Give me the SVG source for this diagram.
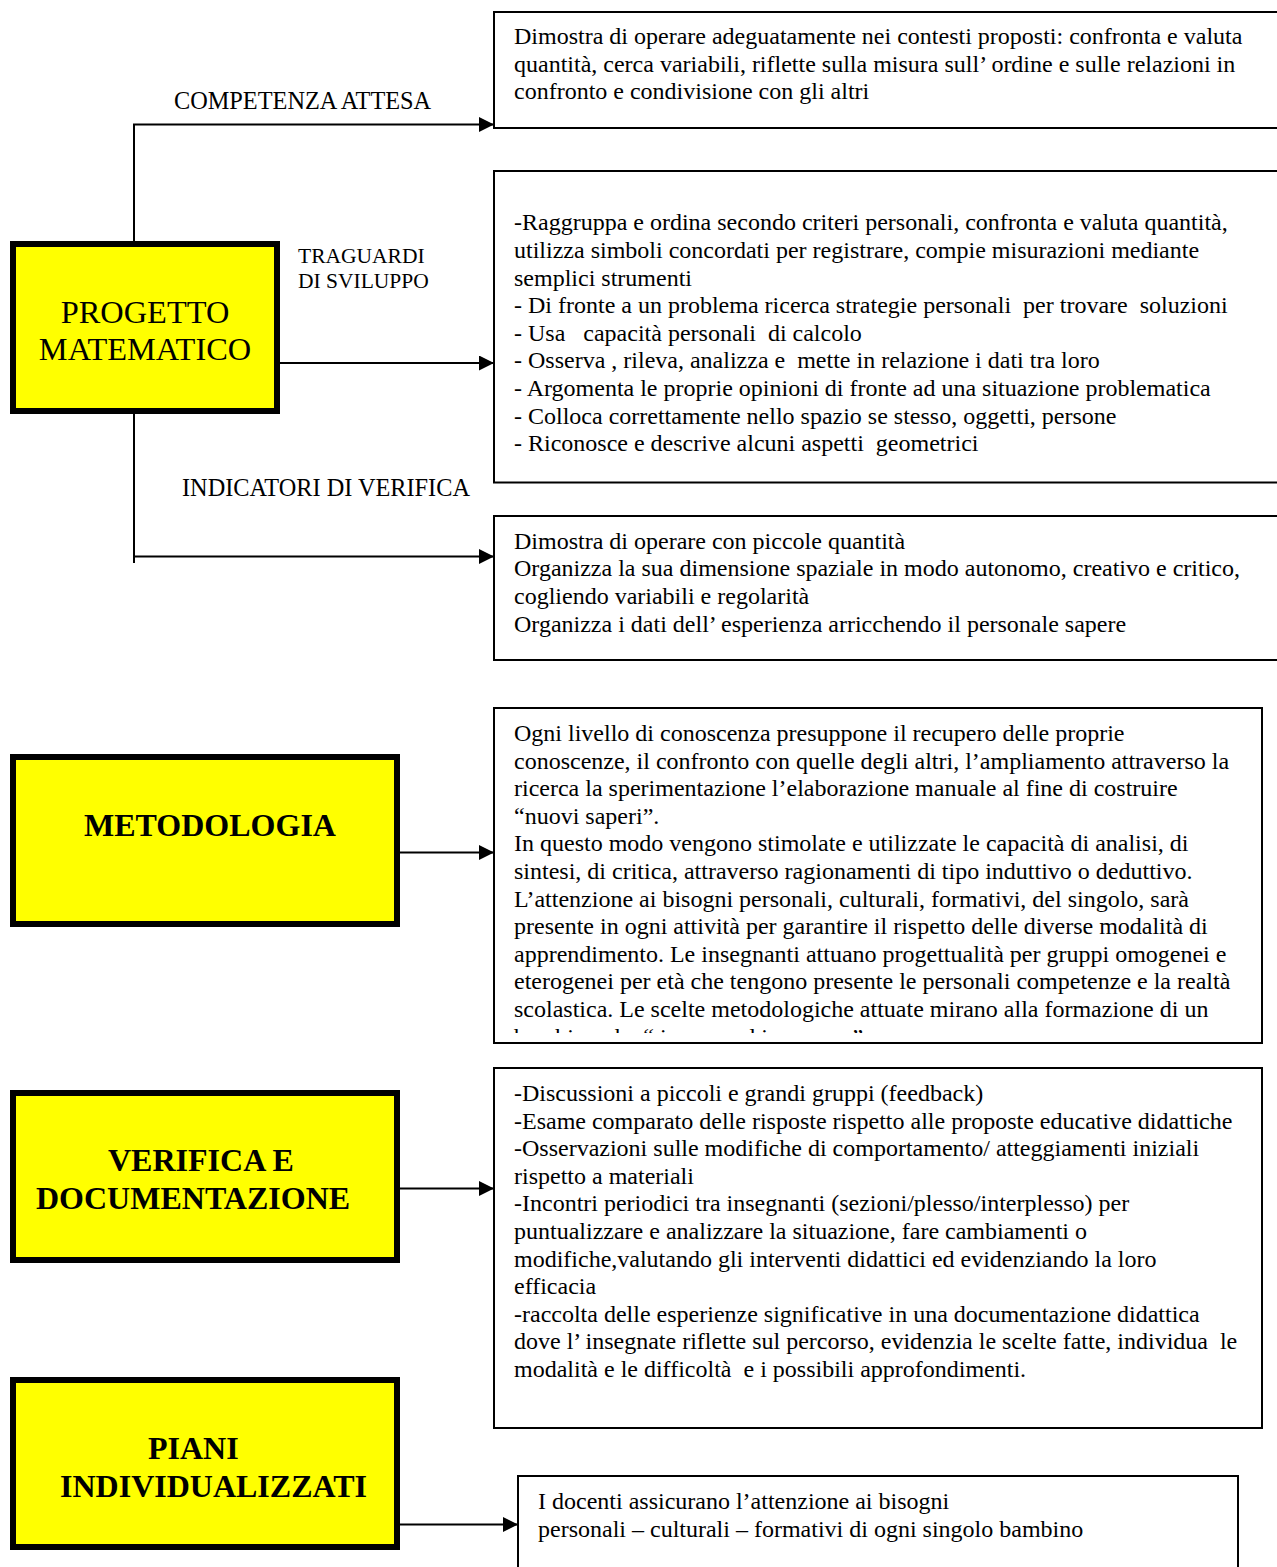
<svg xmlns="http://www.w3.org/2000/svg" width="1277" height="1567" viewBox="0 0 1277 1567">
<style>
text{font-family:"Liberation Serif","Times New Roman",serif;fill:#000;white-space:pre}
.b{font-size:24px}
.lbl{font-size:24.3px}
.sm{font-size:21.5px}
.big{font-size:32.4px}
.bold{font-size:32px;font-weight:bold}
.box{fill:#fff;stroke:#000;stroke-width:2}
.ybox{fill:#ffff00;stroke:#000;stroke-width:6}
.con{fill:none;stroke:#000;stroke-width:2}
</style>
<defs>
<marker id="ah" markerUnits="userSpaceOnUse" markerWidth="15" markerHeight="15" refX="15" refY="7.5" orient="auto">
<path d="M0,0 L15,7.5 L0,15 z" fill="#000"/>
</marker>
<clipPath id="clipMet"><rect x="494" y="708" width="768" height="325"/></clipPath>
</defs>

<g id="connectors">
<path class="con" d="M134,241 V124.5 H494" marker-end="url(#ah)"/>
<path class="con" d="M280,363 H494" marker-end="url(#ah)"/>
<path class="con" d="M134,414 V563 M134,556.5 H494" marker-end="url(#ah)"/>
<path class="con" d="M400,852.5 H494" marker-end="url(#ah)"/>
<path class="con" d="M400,1188.5 H494" marker-end="url(#ah)"/>
<path class="con" d="M400,1524.5 H518" marker-end="url(#ah)"/>
</g>

<g id="labels">
<text class="lbl" x="174" y="109">COMPETENZA ATTESA</text>
<text class="sm" x="298" y="263">TRAGUARDI</text>
<text class="sm" x="298" y="287.5">DI SVILUPPO</text>
<text class="lbl" x="182" y="495.5">INDICATORI DI VERIFICA</text>
</g>

<g id="progetto-matematico">
<rect class="ybox" x="13" y="244" width="264" height="167"/>
<text class="big" x="145" y="323" text-anchor="middle">PROGETTO</text>
<text class="big" x="145" y="360" text-anchor="middle">MATEMATICO</text>
</g>

<g id="competenza">
<rect class="box" x="494" y="12" width="800" height="116"/>
<text class="b" x="514" y="44">Dimostra di operare adeguatamente nei contesti proposti: confronta e valuta</text>
<text class="b" x="514" y="71.6">quantità, cerca variabili, riflette sulla misura sull’ ordine e sulle relazioni in</text>
<text class="b" x="514" y="99.2">confronto e condivisione con gli altri</text>
</g>

<g id="traguardi">
<rect class="box" x="494" y="171" width="800" height="311.5"/>
<text class="b" x="514" y="230.4">-Raggruppa e ordina secondo criteri personali, confronta e valuta quantità,</text>
<text class="b" x="514" y="258">utilizza simboli concordati per registrare, compie misurazioni mediante</text>
<text class="b" x="514" y="285.6">semplici strumenti</text>
<text class="b" x="514" y="313.2">- Di fronte a un problema ricerca strategie personali  per trovare  soluzioni</text>
<text class="b" x="514" y="340.8">- Usa   capacità personali  di calcolo</text>
<text class="b" x="514" y="368.4">- Osserva , rileva, analizza e  mette in relazione i dati tra loro</text>
<text class="b" x="514" y="396">- Argomenta le proprie opinioni di fronte ad una situazione problematica</text>
<text class="b" x="514" y="423.6">- Colloca correttamente nello spazio se stesso, oggetti, persone</text>
<text class="b" x="514" y="451.2">- Riconosce e descrive alcuni aspetti  geometrici</text>
</g>

<g id="indicatori">
<rect class="box" x="494" y="516" width="800" height="144"/>
<text class="b" x="514" y="548.8">Dimostra di operare con piccole quantità</text>
<text class="b" x="514" y="576.4">Organizza la sua dimensione spaziale in modo autonomo, creativo e critico,</text>
<text class="b" x="514" y="604">cogliendo variabili e regolarità</text>
<text class="b" x="514" y="631.6">Organizza i dati dell’ esperienza arricchendo il personale sapere</text>
</g>

<g id="metodologia">
<rect class="ybox" x="13" y="757" width="384" height="167"/>
<text class="bold" x="210" y="836" text-anchor="middle">METODOLOGIA</text>
</g>

<g id="metodologia-testo">
<rect class="box" x="494" y="708" width="768" height="335"/>
<g clip-path="url(#clipMet)">
<text class="b" x="514" y="741">Ogni livello di conoscenza presuppone il recupero delle proprie</text>
<text class="b" x="514" y="768.6">conoscenze, il confronto con quelle degli altri, l’ampliamento attraverso la</text>
<text class="b" x="514" y="796.2">ricerca la sperimentazione l’elaborazione manuale al fine di costruire</text>
<text class="b" x="514" y="823.8">“nuovi saperi”.</text>
<text class="b" x="514" y="851.4">In questo modo vengono stimolate e utilizzate le capacità di analisi, di</text>
<text class="b" x="514" y="879">sintesi, di critica, attraverso ragionamenti di tipo induttivo o deduttivo.</text>
<text class="b" x="514" y="906.6">L’attenzione ai bisogni personali, culturali, formativi, del singolo, sarà</text>
<text class="b" x="514" y="934.2">presente in ogni attività per garantire il rispetto delle diverse modalità di</text>
<text class="b" x="514" y="961.8">apprendimento. Le insegnanti attuano progettualità per gruppi omogenei e</text>
<text class="b" x="514" y="989.4">eterogenei per età che tengono presente le personali competenze e la realtà</text>
<text class="b" x="514" y="1017">scolastica. Le scelte metodologiche attuate mirano alla formazione di un</text>
<text class="b" x="514" y="1044.6">bambino che “ impara ad imparare ”</text>
</g>
</g>

<g id="verifica">
<rect class="ybox" x="13" y="1093" width="384" height="167"/>
<text class="bold" x="108" y="1171">VERIFICA E</text>
<text class="bold" x="36" y="1209">DOCUMENTAZIONE</text>
</g>

<g id="verifica-testo">
<rect class="box" x="494" y="1068" width="768" height="360"/>
<text class="b" x="514" y="1101">-Discussioni a piccoli e grandi gruppi (feedback)</text>
<text class="b" x="514" y="1128.6">-Esame comparato delle risposte rispetto alle proposte educative didattiche</text>
<text class="b" x="514" y="1156.2">-Osservazioni sulle modifiche di comportamento/ atteggiamenti iniziali</text>
<text class="b" x="514" y="1183.8">rispetto a materiali</text>
<text class="b" x="514" y="1211.4">-Incontri periodici tra insegnanti (sezioni/plesso/interplesso) per</text>
<text class="b" x="514" y="1239">puntualizzare e analizzare la situazione, fare cambiamenti o</text>
<text class="b" x="514" y="1266.6">modifiche,valutando gli interventi didattici ed evidenziando la loro</text>
<text class="b" x="514" y="1294.2">efficacia</text>
<text class="b" x="514" y="1321.8">-raccolta delle esperienze significative in una documentazione didattica</text>
<text class="b" x="514" y="1349.4">dove l’ insegnate riflette sul percorso, evidenzia le scelte fatte, individua  le</text>
<text class="b" x="514" y="1377">modalità e le difficoltà  e i possibili approfondimenti.</text>
</g>

<g id="piani">
<rect class="ybox" x="13" y="1380" width="384" height="167"/>
<text class="bold" x="148" y="1459">PIANI</text>
<text class="bold" x="60" y="1497">INDIVIDUALIZZATI</text>
</g>

<g id="piani-testo">
<rect class="box" x="518" y="1476" width="720" height="120"/>
<text class="b" x="538" y="1509">I docenti assicurano l’attenzione ai bisogni</text>
<text class="b" x="538" y="1536.6">personali – culturali – formativi di ogni singolo bambino</text>
</g>
</svg>
